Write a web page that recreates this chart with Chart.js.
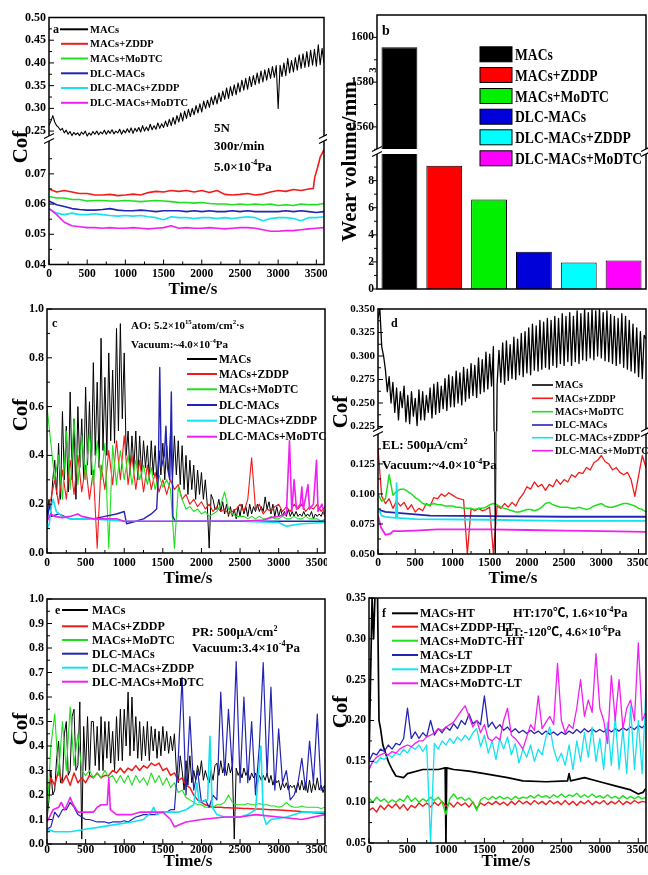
<!DOCTYPE html>
<html>
<head>
<meta charset="utf-8">
<title>MACs lubricant friction and wear</title>
<script src="https://cdn.jsdelivr.net/npm/chart.js"></script>
<style>
  html, body { margin: 0; padding: 0; background: #fff; }
  body { position: relative; width: 648px; height: 875px; overflow: hidden; }
  canvas { position: absolute; display: block; }
</style>
</head>
<body>
<script>
const SERIF = '"Liberation Serif", "Times New Roman", "Noto Sans CJK SC", serif';

// ---------- shared categories / tick labels / time bases ----------
const SERIES_MAIN = ['MACs', 'MACs+ZDDP', 'MACs+MoDTC', 'DLC-MACs', 'DLC-MACs+ZDDP', 'DLC-MACs+MoDTC'];
const SERIES_TEMP = ['MACs-HT', 'MACs+ZDDP-HT', 'MACs+MoDTC-HT', 'MACs-LT', 'MACs+ZDDP-LT', 'MACs+MoDTC-LT'];
const LINE_COLORS = ['#000000', '#f01c1c', '#1ee01e', '#2424b4', '#12e2f2', '#f020f0'];
const BAR_COLORS = ['#000000', '#ff0000', '#00f000', '#0000d8', '#00ffff', '#ff00ff'];

const TIME_TICKS = [0, 500, 1000, 1500, 2000, 2500, 3000, 3500];
const A_TICKS_HI = [0.25, 0.30, 0.35, 0.40, 0.45, 0.50];
const A_TICKS_LO = [0.04, 0.05, 0.06, 0.07];
const B_TICKS_HI = [1560, 1580, 1600];
const B_TICKS_LO = [0, 2, 4, 6, 8];
const C_TICKS = [0, 0.2, 0.4, 0.6, 0.8, 1.0];
const D_TICKS_HI = [0.225, 0.250, 0.275, 0.300, 0.325, 0.350];
const D_TICKS_LO = [0.050, 0.075, 0.100, 0.125];
const E_TICKS = [0, 0.1, 0.2, 0.3, 0.4, 0.5, 0.6, 0.7, 0.8, 0.9, 1.0];
const F_TICKS = [0.05, 0.10, 0.15, 0.20, 0.25, 0.30, 0.35];

const T25 = [0,25,50,75,100,125,150,175, 200,225,250,275,300,325,350,375,
  400,425,450,475,500,525,550,575, 600,625,650,675,700,725,750,775,
  800,825,850,875,900,925,950,975, 1000,1025,1050,1075,1100,1125,1150,1175,
  1200,1225,1250,1275,1300,1325,1350,1375, 1400,1425,1450,1475,1500,1525,1550,1575,
  1600,1625,1650,1675,1700,1725,1750,1775, 1800,1825,1850,1875,1900,1925,1950,1975,
  2000,2025,2050,2075,2100,2125,2150,2175, 2200,2225,2250,2275,2300,2325,2350,2375,
  2400,2425,2450,2475,2500,2525,2550,2575, 2600,2625,2650,2675,2700,2725,2750,2775,
  2800,2825,2850,2875,2900,2925,2950,2975, 3000,3025,3050,3075,3100,3125,3150,3175,
  3200,3225,3250,3275,3300,3325,3350,3375, 3400,3425,3450,3475,3500,3525,3550,3575,
  3600];
const T50 = [0,50,100,150,200,250,300,350,400,450,
  500,550,600,650,700,750,800,850,900,950,
  1000,1050,1100,1150,1200,1250,1300,1350,1400,1450,
  1500,1550,1600,1650,1700,1750,1800,1850,1900,1950,
  2000,2050,2100,2150,2200,2250,2300,2350,2400,2450,
  2500,2550,2600,2650,2700,2750,2800,2850,2900,2950,
  3000,3050,3100,3150,3200,3250,3300,3350,3400,3450,
  3500,3550,3600];
const T100 = [0,100,200,300,400,500,600,700,800,900,
  1000,1100,1200,1300,1400,1500,1600,1700,1800,1900,
  2000,2100,2200,2300,2400,2500,2600,2700,2800,2900,
  3000,3100,3200,3300,3400,3500,3600];

// ---------- (a) vacuum, 5 N ----------
const aMACs = [0.262,0.272,0.284,0.270,0.262,0.258,0.252,0.256,
  0.246,0.252,0.243,0.249,0.240,0.247,0.242,0.246,
  0.240,0.248,0.243,0.250,0.239,0.246,0.241,0.249,
  0.243,0.250,0.242,0.248,0.244,0.252,0.243,0.251,
  0.245,0.253,0.244,0.250,0.246,0.254,0.243,0.252,
  0.246,0.255,0.247,0.257,0.245,0.256,0.249,0.258,
  0.248,0.262,0.250,0.259,0.251,0.265,0.253,0.262,
  0.254,0.268,0.256,0.266,0.258,0.272,0.260,0.276,
  0.262,0.280,0.265,0.284,0.270,0.290,0.272,0.294,
  0.278,0.298,0.282,0.300,0.286,0.306,0.290,0.310,
  0.292,0.316,0.300,0.318,0.302,0.325,0.308,0.328,
  0.310,0.334,0.315,0.338,0.320,0.345,0.322,0.348,
  0.328,0.352,0.330,0.356,0.336,0.362,0.340,0.366,
  0.342,0.370,0.348,0.372,0.352,0.378,0.355,0.382,
  0.358,0.385,0.362,0.388,0.366,0.392,0.368,0.394,
  0.300,0.395,0.370,0.400,0.372,0.410,0.378,0.405,
  0.380,0.412,0.384,0.418,0.388,0.420,0.390,0.425,
  0.392,0.428,0.395,0.430,0.393,0.440,0.396,0.432,
  0.400];
const aZDDP = [[0,0.065],[100,0.064],[200,0.0645],[300,0.064],[400,0.0635],[500,0.0635],[600,0.063],[700,0.063],[800,0.0632],[900,0.0628],
  [1000,0.063],[1100,0.0633],[1200,0.063],[1300,0.0638],[1400,0.0642],[1500,0.064],[1600,0.0645],[1700,0.0642],[1800,0.0645],[1900,0.064],
  [2000,0.0645],[2100,0.0638],[2200,0.0645],[2300,0.0632],[2400,0.063],[2500,0.0632],[2600,0.0635],[2700,0.063],[2800,0.0633],[2900,0.064],
  [3000,0.0645],[3100,0.0642],[3200,0.0648],[3300,0.0645],[3400,0.065],[3460,0.0652],[3480,0.069],[3510,0.0715],[3550,0.0755],[3600,0.078]];
const aMoDTC = [0.0625,0.062,0.062,0.0615,0.0615,0.061,0.0612,0.0612,0.061,0.061,
  0.0612,0.061,0.0608,0.061,0.0612,0.061,0.0608,0.0605,0.0605,0.0603,
  0.0605,0.0602,0.060,0.060,0.0598,0.060,0.0598,0.060,0.0598,0.060,
  0.0595,0.0598,0.0595,0.060,0.0598,0.0598,0.0602];
const aDLC = [0.061,0.0598,0.0592,0.0585,0.0582,0.058,0.058,0.0582,0.0585,0.058,
  0.0578,0.0578,0.058,0.0578,0.0575,0.0578,0.0578,0.0578,0.0575,0.0578,
  0.0575,0.0578,0.0575,0.0575,0.0578,0.0575,0.0578,0.0575,0.0575,0.0575,
  0.0575,0.0578,0.0575,0.0578,0.0575,0.0572,0.0575];
const aDLCZDDP = [0.0585,0.057,0.0565,0.057,0.0565,0.0565,0.0568,0.0565,0.0562,0.056,
  0.0562,0.056,0.0562,0.0558,0.0555,0.0548,0.0558,0.0555,0.0555,0.0552,
  0.0555,0.0555,0.0552,0.0555,0.0552,0.0555,0.0558,0.0555,0.0545,0.0552,
  0.0555,0.0555,0.0552,0.0545,0.0555,0.0555,0.0558];
const aDLCMoDTC = [0.0585,0.0565,0.054,0.0528,0.0525,0.0522,0.0522,0.052,0.0522,0.052,
  0.052,0.0522,0.052,0.0518,0.052,0.0522,0.0528,0.052,0.0522,0.052,
  0.052,0.0522,0.052,0.0518,0.052,0.0522,0.0522,0.052,0.0515,0.051,
  0.051,0.0512,0.0512,0.0515,0.0518,0.052,0.0522];

// ---------- (b) wear volume ----------
const WEAR_VOLUME = [1595.6, 9.1, 6.6, 2.75, 1.95, 2.1];
const WEAR_LOW = [0, 10.15];
const WEAR_HIGH = [1549, 1610];

// ---------- (c) atomic oxygen ----------
const cMACs = [0.15,0.22,0.18,0.30,0.38,0.24,0.45,0.22,
  0.58,0.30,0.52,0.25,0.66,0.30,0.55,0.22,
  0.60,0.35,0.55,0.30,0.68,0.36,0.62,0.32,
  0.78,0.40,0.70,0.35,0.88,0.42,0.72,0.40,
  0.82,0.46,0.75,0.45,0.92,0.50,0.94,0.55,
  0.82,0.40,0.50,0.32,0.48,0.35,0.50,0.30,
  0.48,0.32,0.46,0.35,0.44,0.30,0.46,0.32,
  0.44,0.28,0.42,0.32,0.45,0.30,0.44,0.33,
  0.50,0.30,0.48,0.32,0.46,0.28,0.44,0.26,
  0.40,0.24,0.38,0.26,0.36,0.22,0.34,0.24,
  0.33,0.22,0.30,0.20,0.02,0.24,0.22,0.18,
  0.18,0.22,0.17,0.21,0.16,0.20,0.15,0.19,
  0.15,0.18,0.14,0.19,0.15,0.20,0.16,0.19,
  0.15,0.20,0.16,0.19,0.17,0.20,0.17,0.19,
  0.17,0.23,0.18,0.21,0.16,0.20,0.15,0.19,
  0.15,0.18,0.15,0.17,0.15,0.18,0.15,0.17,
  0.15,0.17,0.15,0.16,0.15,0.17,0.15,0.16,
  0.15,0.17,0.14,0.16,0.15,0.16,0.15,0.17,
  0.15];
const cZDDP = [0.18,0.22,0.30,0.20,0.34,0.22,0.38,0.24,0.40,0.25,
  0.36,0.22,0.34,0.02,0.36,0.26,0.42,0.28,0.46,0.30,
  0.48,0.28,0.40,0.26,0.38,0.25,0.36,0.26,0.33,0.25,
  0.30,0.24,0.30,0.26,0.28,0.22,0.24,0.20,0.22,0.19,
  0.21,0.18,0.20,0.17,0.19,0.17,0.18,0.16,0.17,0.18,
  0.20,0.17,0.22,0.39,0.18,0.20,0.16,0.18,0.17,0.19,
  0.20,0.17,0.19,0.17,0.20,0.18,0.20,0.17,0.19,0.18,
  0.20,0.17,0.19];
const cMoDTC = [0.60,0.45,0.30,0.40,0.22,0.50,0.26,0.55,0.28,0.48,
  0.30,0.50,0.28,0.46,0.30,0.45,0.02,0.44,0.28,0.42,
  0.30,0.40,0.28,0.38,0.30,0.36,0.28,0.35,0.26,0.32,
  0.27,0.30,0.26,0.02,0.27,0.22,0.18,0.19,0.17,0.18,
  0.16,0.17,0.15,0.16,0.17,0.20,0.25,0.18,0.16,0.15,
  0.15,0.15,0.14,0.15,0.14,0.15,0.14,0.14,0.15,0.14,
  0.14,0.15,0.14,0.14,0.15,0.14,0.14,0.15,0.14,0.14,
  0.14,0.13,0.14];
const cDLC = [[0,0.12],[30,0.20],[60,0.15],[150,0.16],[300,0.14],[600,0.14],[750,0.15],[900,0.16],[1000,0.17],[1030,0.12],
  [1150,0.13],[1250,0.14],[1350,0.16],[1420,0.18],[1440,0.30],[1460,0.76],[1480,0.35],[1520,0.40],[1540,0.52],[1560,0.35],
  [1590,0.30],[1610,0.66],[1630,0.15],[1660,0.13],[2000,0.13],[3600,0.13]];
const cDLCZDDP = [[0,0.10],[30,0.12],[60,0.20],[80,0.22],[120,0.17],[200,0.15],[300,0.14],[500,0.14],[800,0.135],[1000,0.13],
  [1500,0.13],[2000,0.13],[2500,0.13],[3000,0.125],[3100,0.11],[3300,0.12],[3600,0.125]];
const cDLCMoDTC = [[0,0.13],[50,0.16],[100,0.15],[200,0.145],[300,0.15],[400,0.16],[450,0.15],[600,0.14],[900,0.14],[1000,0.13],
  [1500,0.13],[2000,0.13],[2500,0.13],[2800,0.135],[2900,0.145],[3000,0.15],[3100,0.16],[3140,0.46],[3170,0.17],[3200,0.30],
  [3230,0.18],[3280,0.20],[3300,0.27],[3320,0.18],[3380,0.28],[3400,0.18],[3450,0.20],[3490,0.38],[3510,0.17],[3560,0.20],[3600,0.15]];

// ---------- (d) electron irradiation ----------
const dMACs = [0.340,0.350,0.310,0.300,0.285,0.262,0.278,0.250,
  0.272,0.240,0.266,0.232,0.262,0.245,0.268,0.230,
  0.258,0.228,0.262,0.236,0.255,0.226,0.264,0.232,
  0.262,0.232,0.258,0.240,0.266,0.234,0.270,0.238,
  0.272,0.240,0.268,0.244,0.276,0.242,0.280,0.246,
  0.278,0.246,0.284,0.250,0.282,0.248,0.288,0.252,
  0.286,0.255,0.292,0.258,0.290,0.256,0.298,0.260,
  0.296,0.262,0.304,0.265,0.302,0.268,0.310,0.050,
  0.270,0.306,0.272,0.314,0.270,0.316,0.274,0.312,
  0.276,0.320,0.275,0.318,0.280,0.324,0.278,0.326,
  0.282,0.330,0.280,0.334,0.285,0.332,0.284,0.338,
  0.286,0.336,0.288,0.340,0.286,0.338,0.290,0.342,
  0.288,0.340,0.292,0.345,0.290,0.342,0.294,0.346,
  0.290,0.342,0.294,0.348,0.292,0.345,0.296,0.350,
  0.295,0.346,0.298,0.350,0.296,0.348,0.300,0.350,
  0.298,0.346,0.295,0.348,0.294,0.344,0.292,0.342,
  0.290,0.340,0.292,0.345,0.288,0.342,0.286,0.338,
  0.284,0.334,0.282,0.330,0.278,0.326,0.276,0.322,
  0.318];
const dZDDP = [0.138,0.098,0.092,0.096,0.088,0.094,0.090,0.093,0.087,0.091,
  0.085,0.088,0.086,0.092,0.090,0.097,0.096,0.100,0.098,0.101,
  0.099,0.097,0.096,0.095,0.050,0.088,0.086,0.088,0.086,0.087,
  0.089,0.050,0.090,0.088,0.092,0.089,0.093,0.090,0.096,0.100,
  0.106,0.104,0.110,0.106,0.108,0.103,0.108,0.106,0.112,0.108,
  0.112,0.110,0.116,0.114,0.118,0.117,0.122,0.120,0.126,0.128,
  0.132,0.127,0.125,0.120,0.122,0.118,0.116,0.118,0.112,0.098,
  0.115,0.132,0.122];
const dMoDTC = [0.100,0.094,0.096,0.116,0.099,0.102,0.104,0.104,0.102,0.100,
  0.097,0.095,0.092,0.091,0.091,0.092,0.091,0.091,0.090,0.090,
  0.090,0.089,0.089,0.088,0.088,0.088,0.087,0.088,0.088,0.089,
  0.091,0.092,0.091,0.089,0.088,0.087,0.086,0.085,0.085,0.086,
  0.087,0.087,0.086,0.087,0.089,0.092,0.093,0.091,0.090,0.089,
  0.089,0.089,0.088,0.088,0.089,0.088,0.087,0.088,0.090,0.091,
  0.092,0.090,0.089,0.089,0.090,0.091,0.092,0.092,0.091,0.090,
  0.088,0.087,0.085];
const dDLC = [[0,0.087],[100,0.085],[300,0.084],[700,0.082],[1500,0.0815],[2500,0.081],[3600,0.081]];
const dDLCZDDP = [[0,0.088],[50,0.082],[100,0.081],[240,0.080],[250,0.109],[262,0.080],[500,0.079],[1500,0.0785],[2000,0.078],[2500,0.0775],[3600,0.0775]];
const dDLCMoDTC = [[0,0.082],[40,0.072],[100,0.066],[170,0.067],[200,0.069],[300,0.069],[500,0.0695],[800,0.0705],[1500,0.0705],[2000,0.070],[2500,0.0695],[3000,0.069],[3600,0.0685]];

// ---------- (e) proton irradiation ----------
const eMACs = [0.10,0.18,0.30,0.20,0.22,0.35,0.42,0.25,
  0.25,0.45,0.50,0.28,0.30,0.52,0.55,0.30,
  0.32,0.58,0.02,0.48,0.30,0.52,0.28,0.50,
  0.50,0.32,0.48,0.30,0.52,0.30,0.50,0.35,
  0.50,0.33,0.46,0.30,0.52,0.34,0.55,0.34,
  0.55,0.40,0.62,0.36,0.60,0.38,0.52,0.35,
  0.50,0.34,0.48,0.36,0.50,0.34,0.48,0.38,
  0.47,0.35,0.46,0.36,0.48,0.38,0.46,0.37,
  0.44,0.38,0.45,0.30,0.25,0.36,0.30,0.22,
  0.34,0.24,0.36,0.25,0.30,0.26,0.32,0.28,
  0.34,0.26,0.30,0.27,0.25,0.30,0.26,0.32,
  0.33,0.28,0.34,0.29,0.32,0.28,0.33,0.29,
  0.32,0.02,0.31,0.28,0.30,0.27,0.31,0.28,
  0.30,0.26,0.29,0.27,0.29,0.25,0.28,0.26,
  0.28,0.26,0.29,0.25,0.28,0.24,0.27,0.25,
  0.26,0.22,0.25,0.23,0.25,0.22,0.24,0.23,
  0.24,0.21,0.25,0.22,0.26,0.22,0.25,0.21,
  0.26,0.21,0.25,0.22,0.27,0.22,0.24,0.21,
  0.24];
const eZDDP = [0.20,0.27,0.24,0.30,0.25,0.28,0.24,0.29,0.25,0.27,
  0.25,0.28,0.27,0.29,0.27,0.28,0.28,0.30,0.29,0.31,
  0.29,0.31,0.30,0.32,0.30,0.32,0.31,0.33,0.32,0.33,
  0.30,0.31,0.28,0.29,0.26,0.27,0.24,0.23,0.20,0.18,
  0.17,0.16,0.155,0.15,0.15,0.15,0.148,0.148,0.147,0.147,
  0.146,0.145,0.145,0.144,0.143,0.143,0.142,0.141,0.140,0.140,
  0.139,0.138,0.137,0.136,0.135,0.134,0.132,0.131,0.130,0.128,
  0.127,0.126,0.125];
const eMoDTC = [0.10,0.40,0.53,0.28,0.50,0.30,0.56,0.32,0.45,0.30,
  0.28,0.30,0.27,0.29,0.27,0.30,0.27,0.28,0.25,0.28,
  0.25,0.28,0.24,0.28,0.25,0.27,0.24,0.29,0.25,0.28,
  0.24,0.27,0.23,0.25,0.21,0.22,0.19,0.18,0.17,0.16,
  0.16,0.15,0.15,0.15,0.16,0.16,0.17,0.20,0.17,0.16,
  0.16,0.16,0.165,0.16,0.16,0.165,0.16,0.16,0.155,0.155,
  0.15,0.155,0.17,0.155,0.15,0.15,0.155,0.15,0.15,0.15,
  0.15,0.145,0.15];
const eDLC = [0.06,0.07,0.13,0.11,0.14,0.14,0.17,0.15,0.12,0.11,
  0.10,0.10,0.095,0.09,0.09,0.09,0.085,0.09,0.09,0.09,
  0.095,0.09,0.10,0.11,0.115,0.12,0.12,0.12,0.12,0.125,
  0.13,0.13,0.14,0.14,0.35,0.68,0.20,0.52,0.22,0.30,
  0.17,0.18,0.15,0.20,0.18,0.62,0.28,0.55,0.30,0.745,
  0.25,0.60,0.25,0.50,0.20,0.40,0.74,0.28,0.64,0.22,
  0.47,0.25,0.30,0.18,0.20,0.25,0.35,0.22,0.42,0.25,
  0.53,0.22,0.24];
const eDLCZDDP = [[0,0.06],[100,0.05],[300,0.05],[500,0.06],[700,0.07],[900,0.08],[1100,0.09],[1250,0.10],[1350,0.13],[1380,0.15],
  [1420,0.12],[1500,0.13],[1700,0.13],[1800,0.14],[1900,0.16],[1940,0.25],[1970,0.17],[2080,0.18],[2110,0.44],[2140,0.15],
  [2200,0.12],[2300,0.11],[2500,0.11],[2600,0.12],[2700,0.14],[2770,0.40],[2800,0.12],[2840,0.08],[2900,0.10],[3100,0.11],
  [3300,0.13],[3600,0.13]];
const eDLCMoDTC = [[0,0.09],[80,0.14],[150,0.15],[185,0.17],[230,0.14],[300,0.19],[340,0.16],[400,0.13],[600,0.13],[650,0.15],
  [700,0.16],[780,0.16],[800,0.27],[820,0.14],[900,0.12],[1100,0.12],[1200,0.13],[1500,0.13],[1600,0.10],[1650,0.07],
  [1720,0.08],[1800,0.09],[2000,0.10],[2300,0.11],[2500,0.11],[2700,0.12],[3000,0.11],[3300,0.10],[3600,0.12]];

// ---------- (f) high / low temperature ----------
const fMACsHT = [[0,0.15],[20,0.25],[40,0.35],[60,0.30],[80,0.36],[110,0.36],[130,0.20],[150,0.19],[180,0.17],[250,0.15],
  [300,0.14],[350,0.132],[450,0.13],[500,0.135],[700,0.14],[900,0.14],[990,0.142],[1000,0.05],[1010,0.142],[1100,0.14],
  [1300,0.138],[1500,0.135],[1800,0.13],[2000,0.126],[2300,0.125],[2580,0.126],[2600,0.135],[2620,0.126],[2800,0.13],[3000,0.125],
  [3200,0.12],[3400,0.115],[3500,0.11],[3560,0.112],[3600,0.117]];
const fZDDPHT = [0.090,0.093,0.088,0.096,0.091,0.097,0.093,0.098,0.092,0.097,
  0.090,0.096,0.093,0.099,0.095,0.099,0.094,0.100,0.096,0.101,
  0.095,0.099,0.094,0.100,0.096,0.099,0.094,0.100,0.092,0.099,
  0.096,0.100,0.097,0.101,0.097,0.100,0.096,0.101,0.097,0.102,
  0.098,0.101,0.097,0.102,0.098,0.101,0.097,0.102,0.098,0.101,
  0.097,0.102,0.097,0.101,0.096,0.101,0.098,0.102,0.097,0.101,
  0.098,0.102,0.097,0.101,0.098,0.102,0.097,0.101,0.098,0.102,
  0.099,0.101,0.100];
const fMoDTCHT = [0.105,0.100,0.106,0.101,0.104,0.099,0.103,0.100,0.104,0.101,
  0.108,0.101,0.105,0.100,0.104,0.101,0.106,0.102,0.106,0.100,
  0.085,0.104,0.110,0.104,0.106,0.102,0.105,0.100,0.090,0.103,
  0.106,0.103,0.107,0.104,0.107,0.104,0.106,0.103,0.107,0.104,
  0.106,0.105,0.108,0.105,0.109,0.106,0.108,0.105,0.109,0.106,
  0.110,0.106,0.109,0.107,0.111,0.106,0.109,0.106,0.110,0.106,
  0.108,0.105,0.109,0.105,0.107,0.104,0.108,0.104,0.107,0.104,
  0.107,0.104,0.106];
const fMACsLT = [0.150,0.160,0.158,0.165,0.162,0.170,0.165,0.172,0.170,0.178,
  0.215,0.178,0.186,0.178,0.185,0.180,0.200,0.182,0.190,0.185,
  0.192,0.188,0.196,0.190,0.200,0.195,0.208,0.196,0.200,0.195,
  0.230,0.192,0.198,0.190,0.195,0.188,0.192,0.186,0.190,0.185,
  0.188,0.184,0.188,0.184,0.187,0.183,0.187,0.183,0.186,0.182,
  0.186,0.183,0.187,0.184,0.189,0.185,0.190,0.186,0.190,0.186,
  0.189,0.186,0.190,0.186,0.190,0.187,0.191,0.188,0.192,0.189,
  0.194,0.191,0.196];
const fZDDPLT = [0.140,0.150,0.148,0.155,0.152,0.158,0.155,0.160,0.158,0.165,
  0.160,0.168,0.165,0.170,0.162,0.170,0.050,0.172,0.165,0.175,
  0.170,0.178,0.172,0.180,0.175,0.182,0.176,0.185,0.190,0.168,
  0.182,0.160,0.175,0.152,0.178,0.165,0.180,0.158,0.172,0.148,
  0.165,0.155,0.170,0.150,0.165,0.158,0.180,0.192,0.165,0.150,
  0.160,0.145,0.170,0.140,0.175,0.150,0.185,0.155,0.192,0.150,
  0.178,0.140,0.198,0.145,0.205,0.140,0.190,0.135,0.218,0.140,
  0.200,0.135,0.240];
const fMoDTCLT = [0.140,0.150,0.155,0.158,0.160,0.158,0.162,0.160,0.165,0.168,
  0.170,0.168,0.172,0.175,0.175,0.180,0.182,0.185,0.190,0.188,
  0.192,0.195,0.198,0.205,0.212,0.218,0.205,0.192,0.200,0.185,
  0.195,0.178,0.175,0.180,0.176,0.200,0.215,0.182,0.178,0.172,
  0.165,0.180,0.195,0.188,0.230,0.190,0.198,0.205,0.195,0.270,
  0.200,0.185,0.195,0.190,0.215,0.250,0.205,0.225,0.210,0.282,
  0.215,0.200,0.172,0.255,0.200,0.250,0.190,0.215,0.225,0.200,
  0.295,0.200,0.210];

// ---------- helpers ----------
const onGrid = (times, vals) => vals.map((v, i) => ({ x: times[i], y: v }));
const fromPairs = (pairs) => pairs.map(([x, y]) => ({ x, y }));
const font = (size) => ({ family: SERIF, weight: 'bold', size, lineHeight: 1 });
const fixedTicks = (values) => (s => { s.ticks = values.map(v => ({ value: v })); });

function makeCanvas(box) {
  const c = document.createElement('canvas');
  c.width = box.w; c.height = box.h;
  c.style.left = box.x + 'px'; c.style.top = box.y + 'px';
  c.style.width = box.w + 'px'; c.style.height = box.h + 'px';
  document.body.appendChild(c);
  return c;
}

function timeAxis(box, plot, pad) {
  return {
    type: 'linear', position: 'bottom', min: 0, max: 3600,
    afterBuildTicks: fixedTicks(TIME_TICKS),
    ticks: { autoSkip: false, maxRotation: 0, minRotation: 0,
             color: '#000', font: font(11.5), padding: pad, callback: v => String(v) },
    grid: { display: false, drawTicks: false },
    border: { display: false },
    afterFit: s => { s.height = box.y + box.h - plot.b; s.paddingLeft = 0; s.paddingRight = 0; }
  };
}

function valueAxis(box, plot, o) {
  const axis = {
    type: 'linear', position: 'left', min: o.min, max: o.max,
    afterBuildTicks: fixedTicks(o.ticks),
    ticks: { autoSkip: false, color: '#000', font: font(o.size || 12), padding: 3,
             callback: v => Number(v).toFixed(o.dec) },
    grid: { display: false, drawTicks: false },
    border: { display: false },
    afterFit: s => { s.width = plot.l - box.x; s.paddingTop = 0; s.paddingBottom = 0; }
  };
  if (o.stack) { axis.stack = o.stack; axis.stackWeight = o.stackWeight; axis.weight = o.layoutWeight; }
  return axis;
}

// draws a run of text pieces; array pieces are superscripts. y is the optical centre line.
function drawRich(ctx, x, y, parts, size, opt) {
  opt = opt || {};
  const base = `bold ${size}px ${SERIF}`;
  const supSize = size * 0.62;
  const sup = `bold ${supSize}px ${SERIF}`;
  let w = 0;
  const segs = parts.map(p => {
    const isSup = Array.isArray(p);
    const t = isSup ? p[0] : p;
    ctx.font = isSup ? sup : base;
    const m = ctx.measureText(t).width;
    w += m;
    return { t, isSup, m };
  });
  ctx.save();
  ctx.translate(x, y);
  if (opt.rot) ctx.rotate(opt.rot);
  if (opt.sx) ctx.scale(opt.sx, 1);
  ctx.fillStyle = '#000';
  ctx.textAlign = 'left';
  ctx.textBaseline = 'alphabetic';
  let cx = opt.center ? -w / 2 : 0;
  const baseY = size * 0.33;
  for (const s of segs) {
    ctx.font = s.isSup ? sup : base;
    ctx.fillText(s.t, cx, s.isSup ? baseY - size * 0.42 : baseY);
    cx += s.m;
  }
  ctx.restore();
}

// frame, inner tick marks, axis break, legend and annotations for one panel
function decorPlugin(cfg) {
  return {
    id: 'decor',
    afterDatasetsDraw(chart) {
      const ctx = chart.ctx;
      const A = chart.chartArea;
      const ox = cfg.box.x, oy = cfg.box.y;
      ctx.save();
      ctx.strokeStyle = '#000';
      ctx.lineWidth = 1;
      for (const tm of cfg.marks) {
        const s = chart.scales[tm.id];
        const major = s.ticks.map(t => t.value);
        const step = major.length > 1 ? major[1] - major[0] : 0;
        const minor = [];
        major.forEach(v => [v - step / 2, v + step / 2].forEach(m => {
          if (m > s.min + 1e-9 && m < s.max - 1e-9 && !minor.some(q => Math.abs(q - m) < 1e-9)) minor.push(m);
        }));
        const mark = (v, len) => {
          const p = s.getPixelForValue(v);
          ctx.beginPath();
          if (s.isHorizontal()) { ctx.moveTo(p, A.bottom); ctx.lineTo(p, A.bottom - len); }
          else { ctx.moveTo(A.left, p); ctx.lineTo(A.left + (tm.out ? -len : len), p); }
          ctx.stroke();
        };
        major.forEach(v => mark(v, 5));
        minor.forEach(v => mark(v, 3));
      }
      ctx.lineWidth = 1.5;
      ctx.strokeRect(A.left, A.top, A.right - A.left, A.bottom - A.top);
      if (cfg.breakAxis) {
        const yb = chart.scales[cfg.breakAxis].bottom;
        ctx.fillStyle = '#fff';
        if (cfg.breakFull) ctx.fillRect(A.left - 2, yb - 2.5, A.right - A.left + 4, 5);
        else { ctx.fillRect(A.left - 2, yb - 2.5, 4, 5); ctx.fillRect(A.right - 2, yb - 2.5, 4, 5); }
        ctx.lineWidth = 1.2;
        for (const x of [A.left, A.right]) {
          for (const d of [-2.5, 2.5]) {
            ctx.beginPath(); ctx.moveTo(x - 5, yb + d + 2.5); ctx.lineTo(x + 5, yb + d - 2.5); ctx.stroke();
          }
        }
      }
      const L = cfg.legend;
      if (L) {
        L.labels.forEach((lab, i) => {
          const y = L.rows[i] - oy;
          if (L.boxes) {
            ctx.fillStyle = L.colors[i];
            ctx.fillRect(L.x1 - ox, y - L.h / 2, L.x2 - L.x1, L.h);
            ctx.lineWidth = 1; ctx.strokeStyle = '#000';
            ctx.strokeRect(L.x1 - ox, y - L.h / 2, L.x2 - L.x1, L.h);
          } else {
            ctx.strokeStyle = L.colors[i]; ctx.lineWidth = L.lw;
            ctx.beginPath();
            ctx.moveTo((i === 0 && L.first ? L.first : L.x1) - ox, y);
            ctx.lineTo(L.x2 - ox, y); ctx.stroke();
          }
          drawRich(ctx, L.tx - ox, y, [lab], L.size, { sx: L.sx });
        });
      }
      for (const t of cfg.texts) {
        drawRich(ctx, t.x - ox, t.y - oy, t.p, t.s, { rot: t.rot ? -Math.PI / 2 : 0, center: t.center, sx: t.sx });
      }
      ctx.restore();
    }
  };
}

function lineChart(p) {
  const canvas = makeCanvas(p.box);
  const datasets = p.series.map((s, i) => ({
    label: s.label, data: s.data, yAxisID: s.axis || 'y',
    borderColor: s.color, borderWidth: s.width || 1.1, borderJoinStyle: 'round',
    pointRadius: 0, tension: 0, fill: false, order: s.order !== undefined ? s.order : -i
  }));
  return new Chart(canvas, {
    type: 'line',
    data: { datasets },
    options: {
      responsive: false, animation: false, devicePixelRatio: 1, events: [],
      layout: { padding: { left: 0, bottom: 0, top: p.plot.t - p.box.y, right: p.box.x + p.box.w - p.plot.r } },
      scales: p.scales,
      plugins: { legend: { display: false }, tooltip: { enabled: false } }
    },
    plugins: [decorPlugin(p.decor)]
  });
}

const ROT = true;

// ---------- panel (a) ----------
{
  const box = { x: 0, y: 0, w: 327, h: 298 }, plot = { l: 49, t: 17.5, r: 324, b: 264.5 };
  lineChart({
    box, plot,
    scales: {
      x: timeAxis(box, plot, 3.5),
      yLo: valueAxis(box, plot, { min: 0.04, max: 0.0817, ticks: A_TICKS_LO, dec: 2, stack: 'a', stackWeight: 126, layoutWeight: 1 }),
      yHi: valueAxis(box, plot, { min: 0.2337, max: 0.5, ticks: A_TICKS_HI, dec: 2, stack: 'a', stackWeight: 121, layoutWeight: 2 })
    },
    series: [
      { label: SERIES_MAIN[0], data: onGrid(T25, aMACs), color: LINE_COLORS[0], axis: 'yHi', width: 1.1 },
      { label: SERIES_MAIN[1], data: fromPairs(aZDDP), color: LINE_COLORS[1], axis: 'yLo', width: 1.6 },
      { label: SERIES_MAIN[2], data: onGrid(T100, aMoDTC), color: LINE_COLORS[2], axis: 'yLo', width: 1.6 },
      { label: SERIES_MAIN[3], data: onGrid(T100, aDLC), color: LINE_COLORS[3], axis: 'yLo', width: 1.6 },
      { label: SERIES_MAIN[4], data: onGrid(T100, aDLCZDDP), color: LINE_COLORS[4], axis: 'yLo', width: 1.6 },
      { label: SERIES_MAIN[5], data: onGrid(T100, aDLCMoDTC), color: LINE_COLORS[5], axis: 'yLo', width: 1.6 }
    ],
    decor: {
      box, breakAxis: 'yHi',
      marks: [{ id: 'x' }, { id: 'yLo' }, { id: 'yHi' }],
      legend: { labels: SERIES_MAIN, colors: LINE_COLORS, rows: [29.3, 43.8, 58.5, 73.3, 88, 102.8],
                first: 60, x1: 61, x2: 88, tx: 90, size: 10.5, lw: 2 },
      texts: [
        { x: 53, y: 29, s: 12, p: ['a'] },
        { x: 214, y: 127.5, s: 13, p: ['5N'] },
        { x: 214, y: 146, s: 13, p: ['300r/min'] },
        { x: 214, y: 166.5, s: 13, p: ['5.0×10', ['-4'], 'Pa'] },
        { x: 20, y: 147, s: 21, p: ['Cof'], rot: ROT, center: true },
        { x: 193, y: 288, s: 17, p: ['Time/s'], center: true }
      ]
    }
  });
}

// ---------- panel (b) ----------
{
  const box = { x: 327, y: 0, w: 321, h: 298 }, plot = { l: 377, t: 15, r: 646, b: 289 };
  const canvas = makeCanvas(box);
  const bar = { backgroundColor: BAR_COLORS, borderColor: '#000', borderWidth: 1, grouped: false,
                barPercentage: 0.8, categoryPercentage: 1 };
  new Chart(canvas, {
    type: 'bar',
    data: {
      labels: SERIES_MAIN,
      datasets: [
        Object.assign({ label: 'low', data: WEAR_VOLUME.map(v => Math.min(v, WEAR_LOW[1])), yAxisID: 'yLo' }, bar),
        Object.assign({ label: 'high', data: WEAR_VOLUME.map(v => v > WEAR_HIGH[0] ? v : null), yAxisID: 'yHi' }, bar)
      ]
    },
    options: {
      responsive: false, animation: false, devicePixelRatio: 1, events: [],
      layout: { padding: { left: 0, bottom: 0, top: plot.t - box.y, right: box.x + box.w - plot.r } },
      scales: {
        x: { type: 'category', ticks: { display: false }, grid: { display: false, drawTicks: false }, border: { display: false },
             afterFit: s => { s.height = box.y + box.h - plot.b; s.paddingLeft = 0; s.paddingRight = 0; } },
        yLo: valueAxis(box, plot, { min: WEAR_LOW[0], max: WEAR_LOW[1], ticks: B_TICKS_LO, dec: 0, size: 11.5, stack: 'b', stackWeight: 137.5, layoutWeight: 1 }),
        yHi: valueAxis(box, plot, { min: WEAR_HIGH[0], max: WEAR_HIGH[1], ticks: B_TICKS_HI, dec: 0, size: 11.5, stack: 'b', stackWeight: 136.5, layoutWeight: 2 })
      },
      plugins: { legend: { display: false }, tooltip: { enabled: false } }
    },
    plugins: [decorPlugin({
      box, breakAxis: 'yHi', breakFull: true,
      marks: [{ id: 'yLo', out: true }, { id: 'yHi', out: true }],
      legend: { boxes: true, labels: SERIES_MAIN, colors: BAR_COLORS, rows: [54.3, 75, 96, 116.7, 137.3, 158.3],
                x1: 480, x2: 512, h: 15, tx: 515, size: 17, sx: 0.8 },
      texts: [
        { x: 382, y: 30, s: 14, p: ['b'] },
        { x: 349, y: 161.5, s: 21, p: ['Wear volume/mm'], rot: ROT, center: true },
        { x: 372, y: 70, s: 11, p: ['3'], rot: ROT, center: true }
      ]
    })]
  });
}

// ---------- panel (c) ----------
{
  const box = { x: 0, y: 298, w: 327, h: 288 }, plot = { l: 47, t: 309, r: 325, b: 553 };
  lineChart({
    box, plot,
    scales: {
      x: timeAxis(box, plot, 4),
      y: valueAxis(box, plot, { min: 0, max: 1, ticks: C_TICKS, dec: 1 })
    },
    series: [
      { label: SERIES_MAIN[0], data: onGrid(T25, cMACs), color: LINE_COLORS[0], width: 1 },
      { label: SERIES_MAIN[1], data: onGrid(T50, cZDDP), color: LINE_COLORS[1] },
      { label: SERIES_MAIN[2], data: onGrid(T50, cMoDTC), color: LINE_COLORS[2] },
      { label: SERIES_MAIN[3], data: fromPairs(cDLC), color: LINE_COLORS[3], width: 1.4 },
      { label: SERIES_MAIN[4], data: fromPairs(cDLCZDDP), color: LINE_COLORS[4], width: 1.6 },
      { label: SERIES_MAIN[5], data: fromPairs(cDLCMoDTC), color: LINE_COLORS[5], width: 1.6 }
    ],
    decor: {
      box, marks: [{ id: 'x' }, { id: 'y' }],
      legend: { labels: SERIES_MAIN, colors: LINE_COLORS, rows: [359, 374, 389.3, 405, 420.7, 436.7],
                x1: 187, x2: 217, tx: 219, size: 11.5, lw: 2 },
      texts: [
        { x: 52, y: 323, s: 12, p: ['c'] },
        { x: 131, y: 325, s: 11, p: ['AO: 5.2×10', ['15'], 'atom/cm', ['2'], '·s'] },
        { x: 131, y: 344, s: 11, p: ['Vacuum:~4.0×10', ['-4'], 'Pa'] },
        { x: 20, y: 415, s: 21, p: ['Cof'], rot: ROT, center: true },
        { x: 188, y: 577, s: 17, p: ['Time/s'], center: true }
      ]
    }
  });
}

// ---------- panel (d) ----------
{
  const box = { x: 327, y: 298, w: 321, h: 288 }, plot = { l: 378, t: 309, r: 646, b: 554 };
  const macs = onGrid(T25, dMACs);
  lineChart({
    box, plot,
    scales: {
      x: timeAxis(box, plot, 3),
      yLo: valueAxis(box, plot, { min: 0.05, max: 0.152, ticks: D_TICKS_LO, dec: 3, size: 11, stack: 'd', stackWeight: 1, layoutWeight: 1 }),
      yHi: valueAxis(box, plot, { min: 0.2197, max: 0.35, ticks: D_TICKS_HI, dec: 3, size: 11, stack: 'd', stackWeight: 1, layoutWeight: 2 })
    },
    series: [
      { label: SERIES_MAIN[0], data: macs, color: LINE_COLORS[0], axis: 'yHi', width: 1.3 },
      { label: SERIES_MAIN[1], data: onGrid(T50, dZDDP), color: LINE_COLORS[1], axis: 'yLo', width: 1.3 },
      { label: SERIES_MAIN[2], data: onGrid(T50, dMoDTC), color: LINE_COLORS[2], axis: 'yLo', width: 1.5 },
      { label: SERIES_MAIN[3], data: fromPairs(dDLC), color: LINE_COLORS[3], axis: 'yLo', width: 1.8 },
      { label: SERIES_MAIN[4], data: fromPairs(dDLCZDDP), color: LINE_COLORS[4], axis: 'yLo', width: 1.8 },
      { label: SERIES_MAIN[5], data: fromPairs(dDLCMoDTC), color: LINE_COLORS[5], axis: 'yLo', width: 1.8 },
      // the same MACs trace on the lower segment, so its drop crosses the axis break
      { label: SERIES_MAIN[0], data: macs, color: LINE_COLORS[0], axis: 'yLo', width: 1, order: -10 }
    ],
    decor: {
      box, breakAxis: 'yHi',
      marks: [{ id: 'x' }, { id: 'yLo' }, { id: 'yHi' }],
      legend: { labels: SERIES_MAIN, colors: LINE_COLORS, rows: [385, 398.3, 411.7, 425, 437.7, 450.7],
                x1: 532, x2: 553, tx: 555, size: 10, lw: 1.6 },
      texts: [
        { x: 391, y: 322.7, s: 12, p: ['d'] },
        { x: 382, y: 445, s: 13, p: ['EL: 500μA/cm', ['2']] },
        { x: 382, y: 465, s: 13, p: ['Vacuum:~4.0×10', ['-4'], 'Pa'] },
        { x: 340, y: 412, s: 21, p: ['Cof'], rot: ROT, center: true },
        { x: 513, y: 577, s: 17, p: ['Time/s'], center: true }
      ]
    }
  });
}

// ---------- panel (e) ----------
{
  const box = { x: 0, y: 586, w: 327, h: 289 }, plot = { l: 47, t: 599, r: 325, b: 844 };
  lineChart({
    box, plot,
    scales: {
      x: timeAxis(box, plot, 0.5),
      y: valueAxis(box, plot, { min: 0, max: 1, ticks: E_TICKS, dec: 1 })
    },
    series: [
      { label: SERIES_MAIN[0], data: onGrid(T25, eMACs), color: LINE_COLORS[0], width: 1 },
      { label: SERIES_MAIN[1], data: onGrid(T50, eZDDP), color: LINE_COLORS[1], width: 1.5 },
      { label: SERIES_MAIN[2], data: onGrid(T50, eMoDTC), color: LINE_COLORS[2] },
      { label: SERIES_MAIN[3], data: onGrid(T50, eDLC), color: LINE_COLORS[3], width: 1.2 },
      { label: SERIES_MAIN[4], data: fromPairs(eDLCZDDP), color: LINE_COLORS[4], width: 1.6 },
      { label: SERIES_MAIN[5], data: fromPairs(eDLCMoDTC), color: LINE_COLORS[5], width: 1.6 }
    ],
    decor: {
      box, marks: [{ id: 'x' }, { id: 'y' }],
      legend: { labels: SERIES_MAIN, colors: LINE_COLORS, rows: [610, 626.3, 640, 653.7, 667.7, 681.7],
                first: 62, x1: 62, x2: 88, tx: 92, size: 12, lw: 2 },
      texts: [
        { x: 55, y: 610, s: 12, p: ['e'] },
        { x: 192, y: 631.7, s: 13, p: ['PR: 500μA/cm', ['2']] },
        { x: 192, y: 647.3, s: 13, p: ['Vacuum:3.4×10', ['-4'], 'Pa'] },
        { x: 20, y: 729, s: 21, p: ['Cof'], rot: ROT, center: true },
        { x: 188, y: 860, s: 17, p: ['Time/s'], center: true }
      ]
    }
  });
}

// ---------- panel (f) ----------
{
  const box = { x: 327, y: 586, w: 321, h: 289 }, plot = { l: 369, t: 598, r: 646, b: 843 };
  lineChart({
    box, plot,
    scales: {
      x: timeAxis(box, plot, 1.5),
      y: valueAxis(box, plot, { min: 0.05, max: 0.35, ticks: F_TICKS, dec: 2, size: 11.5 })
    },
    series: [
      { label: SERIES_TEMP[0], data: fromPairs(fMACsHT), color: LINE_COLORS[0], width: 1.7 },
      { label: SERIES_TEMP[1], data: onGrid(T50, fZDDPHT), color: LINE_COLORS[1], width: 1.4 },
      { label: SERIES_TEMP[2], data: onGrid(T50, fMoDTCHT), color: LINE_COLORS[2], width: 1.4 },
      { label: SERIES_TEMP[3], data: onGrid(T50, fMACsLT), color: LINE_COLORS[3], width: 1.3 },
      { label: SERIES_TEMP[4], data: onGrid(T50, fZDDPLT), color: LINE_COLORS[4], width: 1.3 },
      { label: SERIES_TEMP[5], data: onGrid(T50, fMoDTCLT), color: LINE_COLORS[5], width: 1.3 }
    ],
    decor: {
      box, marks: [{ id: 'x' }, { id: 'y' }],
      legend: { labels: SERIES_TEMP, colors: LINE_COLORS, rows: [613.3, 626.7, 640.7, 655, 669.3, 683.3],
                x1: 392, x2: 418, tx: 420, size: 12, lw: 2 },
      texts: [
        { x: 382, y: 613, s: 12, p: ['f'] },
        { x: 513, y: 613.3, s: 12.5, p: ['HT:170℃, 1.6×10', ['-4'], 'Pa'] },
        { x: 505, y: 631.7, s: 12.5, p: ['LT:-120℃, 4.6×10', ['-6'], 'Pa'] },
        { x: 340, y: 712, s: 21, p: ['Cof'], rot: ROT, center: true },
        { x: 506, y: 860, s: 17, p: ['Time/s'], center: true }
      ]
    }
  });
}
</script>
</body>
</html>
